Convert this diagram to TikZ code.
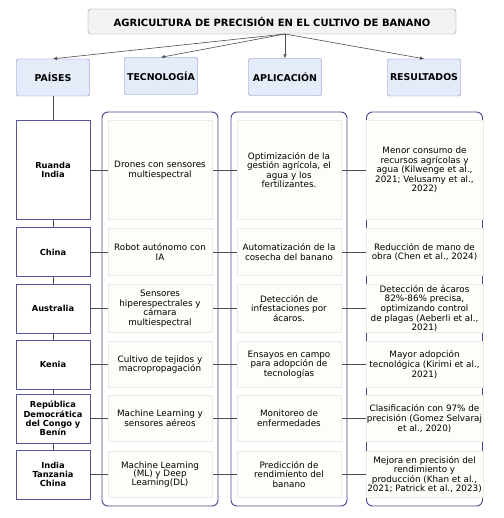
\documentclass[tikz,border=0pt]{standalone}
\usepackage{fontspec}
\setmainfont{DejaVu Sans}
\usetikzlibrary{arrows.meta}

\definecolor{marco}{HTML}{46468C}
\definecolor{cabborde}{HTML}{7A7AC0}
\definecolor{cabfondo}{HTML}{E4ECFA}
\definecolor{paisborde}{HTML}{55559A}
\definecolor{celdafondo}{HTML}{FDFDF9}
\definecolor{celdaborde}{HTML}{ECECE2}

\tikzset{
  titulo/.style={draw=black!45,fill=black!5,rounded corners=3pt,
    minimum width=368pt,minimum height=25pt,font=\bfseries\fontsize{10}{12}\selectfont},
  cabecera/.style={draw=cabborde,fill=cabfondo,rounded corners=2pt,
    minimum width=73pt,minimum height=37pt,inner sep=1pt,font=\bfseries\fontsize{9.4}{11}\selectfont},
  pais/.style={draw=paisborde,fill=white,line width=0.8pt,minimum width=74pt,
    text width=72pt,align=center,inner sep=1pt,font=\bfseries\fontsize{8.3}{9.4}\selectfont},
  celda/.style={draw=celdaborde,fill=celdafondo,line width=1pt,align=center,
    inner sep=0.5pt,font=\fontsize{8.8}{9.6}\selectfont},
  columna/.style={draw=marco,line width=0.9pt,rounded corners=6pt,
    minimum width=116pt,minimum height=394pt},
  enlace/.style={draw=black!70,line width=0.6pt},
  flecha/.style={->,draw=black!70,line width=0.6pt},
}

\begin{document}
\begin{tikzpicture}[x=1pt,y=-1pt,>={Latex[length=4pt,width=3.5pt]}]
  \useasboundingbox (0,0) rectangle (503,518);

  % titulo y cabeceras
  \node[titulo] (titulo) at (272,21.5) {AGRICULTURA DE PRECISIÓN EN EL CULTIVO DE BANANO};
  \coordinate (raiz) at (285,34);
  \node[cabecera] (paises) at (53,77.5) {PAÍSES};
  \node[cabecera] (tecno) at (161,76) {TECNOLOGÍA};
  \node[cabecera] (aplic) at (285,77) {APLICACIÓN};
  \node[cabecera] (result) at (424,77.5) {RESULTADOS};
  \foreach \c in {paises,tecno,aplic,result}
    \draw[flecha] (raiz) -- (\c.north);

  % columnas
  \node[columna] (colTec) at (160,309) {};
  \node[columna] (colApl) at (289,309) {};
  \node[columna] (colRes) at (424.5,309) {};

  % paises
  \node[pais,minimum height=99pt] (p1) at (53,170) {Ruanda\\India};
  \node[pais,minimum height=49pt] (p2) at (53,252) {China};
  \node[pais,minimum height=49pt] (p3) at (53,308.5) {Australia};
  \node[pais,minimum height=49pt] (p4) at (53,364.5) {Kenia};
  \node[pais,minimum height=49pt] (p5) at (53,418.5) {República\\Democrática\\del Congo y\\Benín};
  \node[pais,minimum height=49pt] (p6) at (53,474.5) {India\\Tanzania\\China};
  \draw[enlace] (paises) -- (p1) -- (p2) -- (p3) -- (p4) -- (p5) -- (p6);

  % tecnologia
  \node[celda,minimum width=104pt,minimum height=99pt] (t1) at (160,170) {Drones con sensores\\multiespectral};
  \node[celda,minimum width=104pt,minimum height=47pt] (t2) at (160,252) {Robot autónomo con\\IA};
  \node[celda,minimum width=104pt,minimum height=48pt] (t3) at (160,308.5) {Sensores\\hiperespectrales y\\cámara\\multiespectral};
  \node[celda,minimum width=104pt,minimum height=46pt] (t4) at (160,364.5) {Cultivo de tejidos y\\macropropagación};
  \node[celda,minimum width=104pt,minimum height=46pt] (t5) at (160,418.5) {Machine Learning y\\sensores aéreos};
  \node[celda,minimum width=104pt,minimum height=46pt,font=\fontsize{8.8}{8.8}\selectfont] (t6) at (160,474.5) {Machine Learning\\(ML) y Deep\\Learning(DL)};

  % aplicacion
  \node[celda,minimum width=104pt,minimum height=99pt] (a1) at (289,170) {Optimización de la\\gestión agrícola, el\\agua y los\\fertilizantes.};
  \node[celda,minimum width=104pt,minimum height=47pt] (a2) at (289,252) {Automatización de la\\cosecha del banano};
  \node[celda,minimum width=104pt,minimum height=48pt] (a3) at (289,308.5) {Detección de\\infestaciones por\\ácaros.};
  \node[celda,minimum width=104pt,minimum height=46pt] (a4) at (289,364.5) {Ensayos en campo\\para adopción de\\tecnologías};
  \node[celda,minimum width=104pt,minimum height=46pt] (a5) at (289,418.5) {Monitoreo de\\enfermedades};
  \node[celda,minimum width=104pt,minimum height=46pt] (a6) at (289,474.5) {Predicción de\\rendimiento del\\banano};

  % resultados
  \node[celda,minimum width=117pt,minimum height=99pt] (r1) at (424.5,170) {Menor consumo de\\recursos agrícolas y\\agua (Kilwenge et al.,\\2021; Velusamy et al.,\\2022)};
  \node[celda,minimum width=117pt,minimum height=47pt] (r2) at (424.5,252) {Reducción de mano de\\obra (Chen et al., 2024)};
  \node[celda,minimum width=117pt,minimum height=48pt] (r3) at (424.5,308.5) {Detección de ácaros\\82\%-86\% precisa,\\optimizando control\\de plagas (Aeberli et al.,\\2021)};
  \node[celda,minimum width=117pt,minimum height=46pt] (r4) at (424.5,364.5) {Mayor adopción\\tecnológica (Kirimi et al.,\\2021)};
  \node[celda,minimum width=117pt,minimum height=46pt] (r5) at (424.5,418.5) {Clasificación con 97\% de\\precisión (Gomez Selvaraj\\et al., 2020)};
  \node[celda,minimum width=117pt,minimum height=46pt] (r6) at (424.5,474.5) {Mejora en precisión del\\rendimiento y\\producción (Khan et al.,\\2021; Patrick et al., 2023)};

  % enlaces por fila
  \foreach \i in {1,...,6}
    \draw[enlace] (p\i) -- (t\i) -- (a\i) -- (r\i);
\end{tikzpicture}
\end{document}
